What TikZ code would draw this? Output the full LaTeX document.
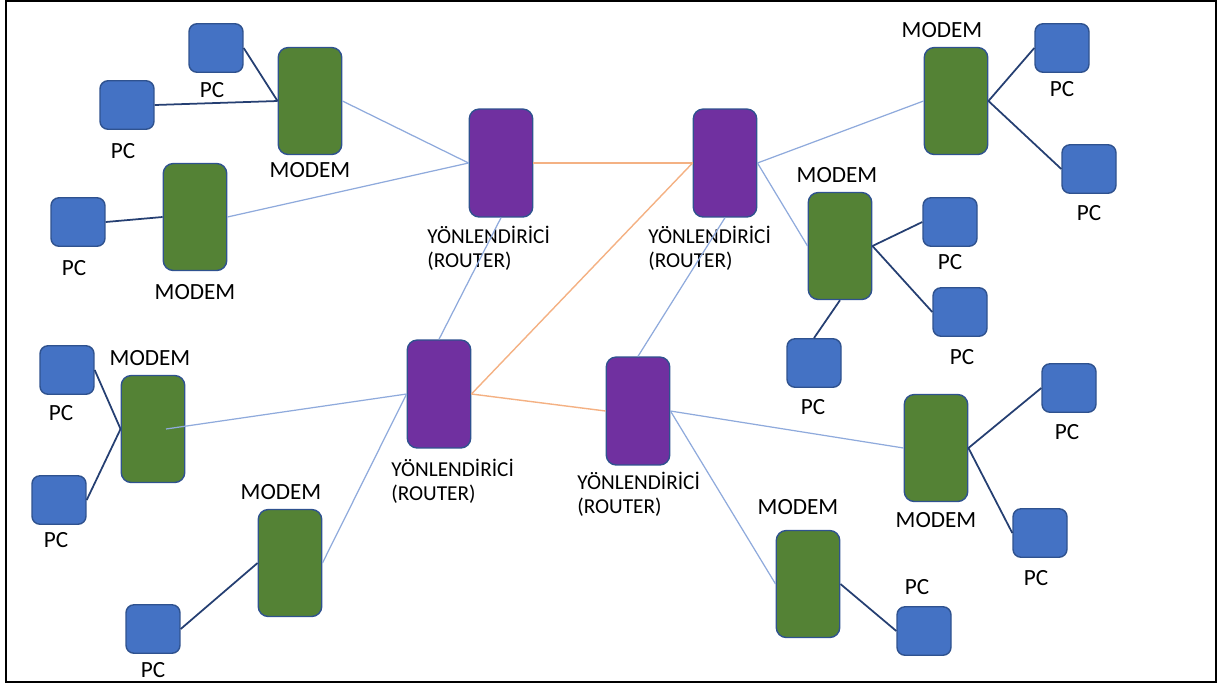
\documentclass[tikz,border=0pt]{standalone}
\usepackage{xcolor}
\usepackage{fontspec}
\setmainfont{Carlito}
\usepackage{tikz}
\usetikzlibrary{calc}

\definecolor{pcblue}{HTML}{4472C4}
\definecolor{edgeblue}{HTML}{2F528F}
\definecolor{modemgreen}{HTML}{548235}
\definecolor{routerpurple}{HTML}{7030A0}
\definecolor{lanblue}{HTML}{253F72}
\definecolor{wanblue}{HTML}{8FAADC}
\definecolor{coreorange}{HTML}{F4B183}

\begin{document}
\begin{tikzpicture}[x=0.02cm,y=-0.02cm,
    pc/.style={draw=edgeblue,fill=pcblue,line width=0.8pt,rounded corners=0.16cm,
      minimum width=1.08cm,minimum height=0.97cm,inner sep=0pt},
    modem/.style={draw=edgeblue,fill=modemgreen,line width=0.8pt,rounded corners=0.2cm,
      minimum width=1.27cm,minimum height=2.14cm,inner sep=0pt},
    router/.style={draw=edgeblue,fill=routerpurple,line width=0.8pt,rounded corners=0.2cm,
      minimum width=1.27cm,minimum height=2.16cm,inner sep=0pt},
    tag/.style={inner sep=0pt,font=\fontsize{13.2}{15}\selectfont},
    rtag/.style={inner sep=0pt,anchor=base west,align=left,
      font=\fontsize{12.1}{13.6}\selectfont},
    lan/.style={draw=lanblue,line width=1pt},
    wan/.style={draw=wanblue,line width=0.7pt},
    core/.style={draw=coreorange,line width=0.8pt}]
    \useasboundingbox (0,0) rectangle (1221,684);
    \draw[line width=1.4pt] (6,1) rectangle (1216,682);

    % routers
    \node[router] (r1) at (501,163) {};
    \node[router] (r2) at (725,163) {};
    \node[router] (r3) at (439,394) {};
    \node[router] (r4) at (638,411) {};
    \node[rtag] (r1t) at (427,267) {YÖNLENDİRİCİ\\(ROUTER)};
    \node[rtag] (r2t) at (648,267) {YÖNLENDİRİCİ\\(ROUTER)};
    \node[rtag] (r3t) at (391,500) {YÖNLENDİRİCİ\\(ROUTER)};
    \node[rtag] (r4t) at (577,513) {YÖNLENDİRİCİ\\(ROUTER)};

    % modems
    \node[modem] (m1) at (310,101) {};
    \node[modem] (m2) at (195,217) {};
    \node[modem] (m3) at (153,429) {};
    \node[modem] (m4) at (290,563) {};
    \node[modem] (m5) at (956,101) {};
    \node[modem] (m6) at (840,246) {};
    \node[modem] (m7) at (936,448) {};
    \node[modem] (m8) at (808,584) {};
    \node[tag] (m1t) at (310,170) {MODEM};
    \node[tag] (m2t) at (195,292) {MODEM};
    \node[tag] (m3t) at (150,358) {MODEM};
    \node[tag] (m4t) at (281,492) {MODEM};
    \node[tag] (m5t) at (942,30) {MODEM};
    \node[tag] (m6t) at (837,175) {MODEM};
    \node[tag] (m7t) at (936,520) {MODEM};
    \node[tag] (m8t) at (798,507) {MODEM};

    % pcs
    \node[pc] (p1) at (216,48) {};
    \node[pc] (p2) at (127,105) {};
    \node[pc] (p3) at (78,222) {};
    \node[pc] (p4) at (67,370) {};
    \node[pc] (p5) at (59,500) {};
    \node[pc] (p6) at (153,629) {};
    \node[pc] (p7) at (1062,48) {};
    \node[pc] (p8) at (1089,169) {};
    \node[pc] (p9) at (950,222) {};
    \node[pc] (p10) at (960,312) {};
    \node[pc] (p11) at (814,363) {};
    \node[pc] (p12) at (1069,388) {};
    \node[pc] (p13) at (1040,533) {};
    \node[pc] (p14) at (924,631) {};
    \node[tag] (p1t) at (212,90) {PC};
    \node[tag] (p2t) at (123,151) {PC};
    \node[tag] (p3t) at (74,268) {PC};
    \node[tag] (p4t) at (61,413) {PC};
    \node[tag] (p5t) at (56,540) {PC};
    \node[tag] (p6t) at (153,670) {PC};
    \node[tag] (p7t) at (1062,89) {PC};
    \node[tag] (p8t) at (1089,213) {PC};
    \node[tag] (p9t) at (950,262) {PC};
    \node[tag] (p10t) at (962,357) {PC};
    \node[tag] (p11t) at (813,407) {PC};
    \node[tag] (p12t) at (1067,432) {PC};
    \node[tag] (p13t) at (1036,578) {PC};
    \node[tag] (p14t) at (917,587) {PC};

    % pc to modem
    \draw[lan] (p1.east) to (m1.west);
    \draw[lan] (p2.east) to (m1.west);
    \draw[lan] (p3.east) to (m2.west);
    \draw[lan] (p4.east) to (m3.west);
    \draw[lan] (p5.east) to (m3.west);
    \draw[lan] (p6.east) to (m4.west);
    \draw[lan] (m5.east) to (p7.west);
    \draw[lan] (m5.east) to (p8.west);
    \draw[lan] (m6.east) to (p9.west);
    \draw[lan] (m6.east) to (p10.west);
    \draw[lan] (m6.south) to (p11.north);
    \draw[lan] (m7.east) to (p12.west);
    \draw[lan] (m7.east) to (p13.west);
    \draw[lan] (m8.east) to (p14.west);

    % modem to router
    \draw[wan] (m1.east) to (r1.west);
    \draw[wan] (m2.east) to (r1.west);
    \draw[wan] ($(m3.center)!0.4!(m3.east)$) to (r3.west);
    \draw[wan] (m4.east) to (r3.west);
    \draw[wan] (r2.east) to (m5.west);
    \draw[wan] (r2.east) to (m6.west);
    \draw[wan] (r4.east) to (m7.west);
    \draw[wan] (r4.east) to (m8.west);
    \draw[wan] (r1.south) to (r3.north);
    \draw[wan] (r2.south) to (r4.north);

    % router to router
    \draw[core] (r1.east) to (r2.west);
    \draw[core] (r2.west) to (r3.east);
    \draw[core] (r3.east) to (r4.west);
  \end{tikzpicture}
\end{document}
